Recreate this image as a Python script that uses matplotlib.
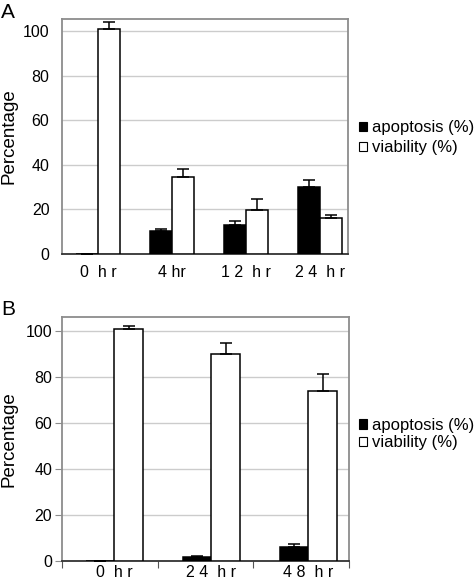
"""Apoptosis / viability bar charts, two panels."""

import matplotlib
matplotlib.use('Agg')
import matplotlib.pyplot as plt
import numpy as np
from matplotlib.patches import Patch

plt.rcParams['font.family'] = ['Liberation Sans', 'DejaVu Sans']

# panel A
a_labels = ['0  h r', '4 hr', '1 2  h r', '2 4  h r']
a_apoptosis = [0.0, 10.4, 13.1, 30.2]
a_apoptosis_err = [0.0, 0.9, 1.5, 3.0]
a_viability = [100.9, 34.5, 19.9, 16.1]
a_viability_err = [3.1, 3.6, 4.6, 1.2]

# panel B
b_labels = ['0  h r', '2 4  h r', '4 8  h r']
b_apoptosis = [0.0, 1.9, 6.2]
b_apoptosis_err = [0.0, 0.4, 1.0]
b_viability = [100.9, 90.0, 73.8]
b_viability_err = [1.1, 4.6, 7.3]

W, H = 475, 581
FRAME = '#8c8c8c'
GRID = '#cccccc'


def draw_panel(ax, labels, apop, apop_err, via, via_err, width, ylim_top):
    x = np.arange(len(labels))
    err_kw = dict(ecolor='black', elinewidth=1.1, capsize=4, capthick=1.1)
    ax.bar(x - width / 2, apop, width, color='black', edgecolor='black',
           linewidth=1.1, zorder=3)
    ax.bar(x + width / 2, via, width, color='white', edgecolor='black',
           linewidth=1.1, zorder=3)
    ax.errorbar(x - width / 2, apop, yerr=[np.zeros(len(x)), apop_err],
                fmt='none', zorder=4, **err_kw)
    ax.errorbar(x + width / 2, via, yerr=[np.zeros(len(x)), via_err],
                fmt='none', zorder=4, **err_kw)

    ax.set_ylim(0, ylim_top)
    ax.set_yticks([0, 20, 40, 60, 80, 100])
    ax.yaxis.grid(True, color=GRID, linewidth=1.0, zorder=0)
    ax.set_axisbelow(True)
    for side in ('left', 'top', 'right'):
        ax.spines[side].set_color(FRAME)
        ax.spines[side].set_linewidth(1.3)
    ax.spines['bottom'].set_color('#333333')
    ax.spines['bottom'].set_linewidth(1.3)
    ax.tick_params(axis='y', labelsize=11.5)
    ax.set_ylabel('Percentage', fontsize=13.5)
    ax.yaxis.set_label_coords(-0.154, 0.5)

    handles = [Patch(facecolor='black', edgecolor='black', linewidth=0.8),
               Patch(facecolor='white', edgecolor='black', linewidth=0.8)]
    return x, handles


fig = plt.figure(figsize=(W / 100, H / 100), dpi=100)
leg_kw = dict(loc='center left', bbox_transform=fig.transFigure, frameon=False,
              fontsize=12, handlelength=0.5, handleheight=0.5,
              handletextpad=0.25, borderpad=0, borderaxespad=0)

# --- panel A ---
ax_a = fig.add_axes([62 / W, 1 - 254 / H, 286 / W, 235 / H])
x_a, handles = draw_panel(ax_a, a_labels, a_apoptosis, a_apoptosis_err,
                          a_viability, a_viability_err, 0.3, 105.4)
ax_a.set_xlim(-0.49, 3.38)
ax_a.set_xticks(x_a, a_labels, fontsize=11.5)
ax_a.tick_params(axis='x', length=0, pad=8)
ax_a.tick_params(axis='y', length=0, pad=9)
ax_a.legend(handles, ['apoptosis (%)', 'viability (%)'],
            bbox_to_anchor=(359 / W, 1 - 138 / H), labelspacing=0.3, **leg_kw)

# --- panel B ---
ax_b = fig.add_axes([62 / W, 1 - 561 / H, 287 / W, 243.7 / H])
x_b, handles = draw_panel(ax_b, b_labels, b_apoptosis, b_apoptosis_err,
                          b_viability, b_viability_err, 0.295, 105.8)
ax_b.set_xlim(-0.54, 2.42)
ax_b.set_xticks(np.linspace(-0.54, 2.42, 4))
ax_b.set_xticklabels([])
ax_b.set_xticks(x_b, b_labels, minor=True, fontsize=11.5)
ax_b.tick_params(axis='x', which='major', length=5, color='#555555', direction='out')
ax_b.tick_params(axis='x', which='minor', length=0, pad=3)
ax_b.tick_params(axis='y', length=5, color=FRAME, pad=2)
ax_b.legend(handles, ['apoptosis (%)', 'viability (%)'],
            bbox_to_anchor=(359 / W, 1 - 434 / H), labelspacing=0.15, **leg_kw)

fig.text(1 / W, 1 - 3 / H, 'A', fontsize=15, va='top', ha='left')
fig.text(1 / W, 1 - 300 / H, 'B', fontsize=15, va='top', ha='left')

fig.savefig('out.png', dpi=100)
